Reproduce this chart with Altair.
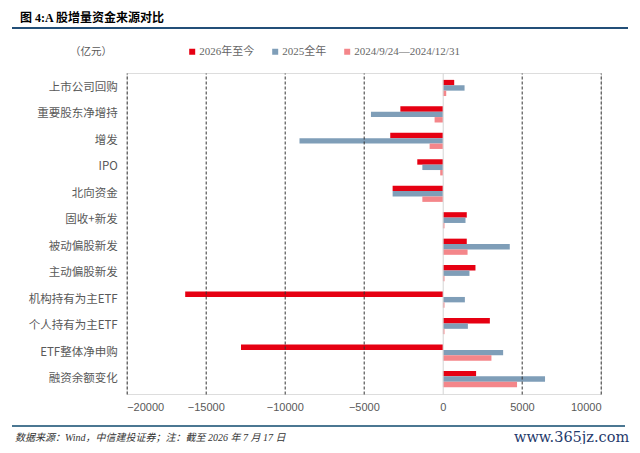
import altair as alt
import pandas as pd

categories = ["上市公司回购", "重要股东净增持", "增发", "IPO", "北向资金", "固收+新发",
              "被动偏股新发", "主动偏股新发", "机构持有为主ETF", "个人持有为主ETF",
              "ETF整体净申购", "融资余额变化"]
series_names = ["2026年至今", "2025全年", "2024/9/24—2024/12/31"]
v2026 = [715, -2690, -3330, -1620, -3180, 1510, 1510, 2060, -16300, 2970, -12770, 2100]
v2025 = [1370, -4550, -9070, -1300, -3180, 1430, 4230, 1680, 1390, 1580, 3810, 6460]
v2024 = [210, -525, -840, -170, -1300, 100, 1560, 100, 100, 100, 3070, 4690]
tick_values = [-20000, -15000, -10000, -5000, 0, 5000, 10000]
colors = ["#E60012", "#7F9EB8", "#F4868A"]

title_text = "图 4:A 股增量资金来源对比"
unit_text = "（亿元）"
source_text = "数据来源：Wind，中信建投证券；注：截至 2026 年 7 月 17 日"
watermark_text = "www.365jz.com"

rows = []
for s, vals in zip(series_names, [v2026, v2025, v2024]):
    for c, v in zip(categories, vals):
        rows.append({"cat": c, "series": s, "value": v})
df = pd.DataFrame(rows)

W, H = 474.3, 321
CJK = "Noto Sans CJK SC"
SERIF = "Liberation Serif, Noto Sans CJK SC"

bars = alt.Chart(df).mark_bar(size=5.4).encode(
    y=alt.Y("cat:N", sort=categories, title=None,
            scale=alt.Scale(paddingInner=0.39, paddingOuter=0.26),
            axis=alt.Axis(labelFont=CJK, labelFontSize=11.5, labelColor="#595959",
                          labelPadding=9.5, ticks=False, domain=False, grid=False)),
    yOffset=alt.YOffset("series:N", sort=series_names,
                        scale=alt.Scale(paddingInner=0, paddingOuter=0)),
    x=alt.X("value:Q", title=None,
            scale=alt.Scale(domain=[-20000, 10000], nice=False),
            axis=alt.Axis(values=tick_values, format="d", labelFont="Liberation Sans",
                          labelFontSize=11, labelColor="#595959", labelPadding=7,
                          ticks=False, domain=False, grid=True, zindex=1,
                          gridColor={"condition": {"test": "datum.value === 0", "value": "#d4d4d4"},
                                     "value": "#333333"},
                          gridDash={"condition": {"test": "datum.value === 0", "value": []},
                                    "value": [3, 2]},
                          gridWidth=1)),
    color=alt.Color("series:N", sort=series_names,
                    scale=alt.Scale(domain=series_names, range=colors),
                    legend=alt.Legend(orient="none", legendX=60, legendY=-27,
                                      direction="horizontal", title=None,
                                      symbolType="square", symbolSize=36,
                                      symbolStrokeWidth=0, labelOffset=1.5,
                                      columnPadding=15, padding=0,
                                      labelFont=SERIF, labelFontSize=11,
                                      labelColor="#666666")),
)

one = pd.DataFrame({"a": [0]})

def text_mark(txt, x, y, size, font, color, align="left", weight="normal", style="normal"):
    return alt.Chart(one).mark_text(
        text=txt, align=align, baseline="middle", fontSize=size, font=font,
        color=color, fontWeight=weight, fontStyle=style
    ).encode(x=alt.value(x), y=alt.value(y))

title = text_mark(title_text, -106.7, -55, 12, SERIF, "#000000", weight="bold")
unit = text_mark(unit_text, -56.7, -21, 10.5, SERIF, "#595959")
source = text_mark(source_text, -111.7, 364.7, 10, SERIF, "#333333", style="italic")
wm = text_mark(watermark_text, 502.5, 365, 14.5, "DejaVu Serif", "#1F3A6B", align="right")

top_line = alt.Chart(one).mark_rule(color="#234F78", strokeWidth=2).encode(
    x=alt.value(-114.7), x2=alt.value(501.3), y=alt.value(-45))
bottom_line = alt.Chart(one).mark_rule(color="#4B7792", strokeWidth=2).encode(
    x=alt.value(-114.7), x2=alt.value(498.3), y=alt.value(353))

chart = alt.layer(bars, top_line, bottom_line, title, unit, source, wm).properties(
    width=W, height=H,
    autosize=alt.AutoSizeParams(type="none"),
    padding={"left": 118.7, "top": 65, "right": 30, "bottom": 50},
).configure_view(stroke=None).configure(background="white")

chart.save("out.html", embed_options={"renderer": "svg", "actions": False})
